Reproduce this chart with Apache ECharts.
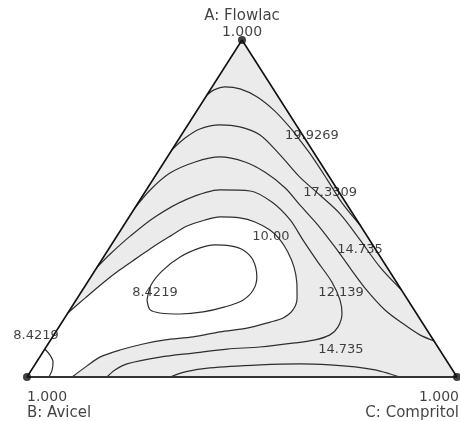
<!DOCTYPE html>
<html>
<head>
<meta charset="utf-8">
<script src="https://cdn.jsdelivr.net/npm/echarts@6/dist/echarts.min.js"></script>
<style>html,body{margin:0;padding:0;background:#fff;}</style>
</head>
<body>
<div id="ternary_chart" style="width:460px;height:421px;"></div>
<script>
// every point is [A: Flowlac, C: Compritol]; B: Avicel = 1 - A - C
var vertices = [[1, 0], [0, 0], [0, 1]];
var vertexNames = ['A: Flowlac', 'B: Avicel', 'C: Compritol'];
var vertexValues = ['1.000', '1.000', '1.000'];

var c19_9269 = [[0.837, 0.000], [0.852, 0.009], [0.861, 0.030], [0.855, 0.068], [0.831, 0.120], [0.789, 0.182],
    [0.739, 0.243], [0.703, 0.283], [0.653, 0.337], [0.585, 0.406], [0.516, 0.475], [0.451, 0.549]];
var c17_3309 = [[0.674, 0.000], [0.709, 0.013], [0.736, 0.034], [0.748, 0.075], [0.742, 0.124], [0.718, 0.183],
    [0.659, 0.259], [0.593, 0.338], [0.540, 0.411], [0.484, 0.486], [0.407, 0.571], [0.326, 0.658], [0.258, 0.742]];
var c14_735 = [[0.501, 0.000], [0.555, 0.009], [0.605, 0.030], [0.638, 0.072], [0.653, 0.122], [0.638, 0.188],
    [0.608, 0.249], [0.561, 0.320], [0.510, 0.380], [0.451, 0.451], [0.386, 0.523], [0.323, 0.590], [0.264, 0.654],
    [0.199, 0.733], [0.154, 0.802], [0.125, 0.851], [0.107, 0.893]];
var c12_139 = [[0.326, 0.000], [0.365, 0.011], [0.418, 0.031], [0.475, 0.060], [0.525, 0.105], [0.555, 0.171],
    [0.552, 0.243], [0.519, 0.310], [0.466, 0.379], [0.407, 0.438], [0.341, 0.506], [0.282, 0.568], [0.228, 0.614],
    [0.187, 0.639], [0.148, 0.649], [0.125, 0.642], [0.110, 0.615], [0.101, 0.573], [0.089, 0.497], [0.083, 0.424],
    [0.071, 0.351], [0.059, 0.280], [0.039, 0.213], [0.021, 0.194], [0.000, 0.186]];
var c10_00 = [[0.190, 0.000], [0.234, 0.018], [0.279, 0.037], [0.318, 0.057], [0.353, 0.079], [0.386, 0.100],
    [0.418, 0.124], [0.448, 0.148], [0.466, 0.181], [0.475, 0.211], [0.472, 0.259], [0.460, 0.300], [0.436, 0.347],
    [0.407, 0.385], [0.371, 0.421], [0.326, 0.458], [0.279, 0.488], [0.234, 0.511], [0.199, 0.519], [0.175, 0.508],
    [0.163, 0.484], [0.145, 0.439], [0.134, 0.382], [0.119, 0.327], [0.110, 0.266], [0.098, 0.221], [0.080, 0.176],
    [0.059, 0.140], [0.033, 0.123], [0.000, 0.105]];
var c8_4219_loop = [[0.228, 0.165], [0.199, 0.187], [0.190, 0.214], [0.187, 0.262], [0.193, 0.313], [0.208, 0.356],
    [0.228, 0.388], [0.258, 0.397], [0.297, 0.386], [0.347, 0.352], [0.377, 0.314], [0.389, 0.278], [0.392, 0.241],
    [0.383, 0.211], [0.356, 0.178], [0.315, 0.157], [0.273, 0.152], [0.228, 0.165]];
var c8_4219_corner = [[0.083, 0.000], [0.065, 0.021], [0.045, 0.038], [0.021, 0.048], [0.000, 0.051]];
var c14_735_base = [[0.000, 0.333], [0.015, 0.360], [0.027, 0.412], [0.036, 0.524], [0.039, 0.615], [0.036, 0.687],
    [0.030, 0.748], [0.021, 0.799], [0.009, 0.840], [0.000, 0.867]];

var labelTexts = ['19.9269', '17.3309', '14.735', '10.00', '12.139', '8.4219', '8.4219', '14.735'];
var labelPoints = [[0.715, 0.305], [0.546, 0.432], [0.377, 0.586], [0.418, 0.358], [0.249, 0.606], [0.249, 0.173],
    [0.122, -0.040], [0.080, 0.690]];

function tern(p) {
    return [p[1] + p[0] / 2, p[0]];
}

function polygonItem(points, color) {
    return function (params, api) {
        return {
            type: 'polygon',
            shape: {
                points: points.map(function (p) {
                    return api.coord(tern(p));
                })
            },
            style: {fill: color}
        };
    };
}

function contourSeries(points) {
    return {
        type: 'line',
        data: points.map(tern),
        smooth: 0.3,
        showSymbol: false,
        silent: true,
        z: 3,
        lineStyle: {color: '#2e2e2e', width: 1.2}
    };
}

var mycharts = echarts.init(document.getElementById('ternary_chart'));

var vertexLabels = [
    {position: [4, 4], align: 'center', verticalAlign: 'bottom', formatter: '{n|' + vertexNames[0] + '}\n{v|' + vertexValues[0] + '}'},
    {position: [4, 16], align: 'left', verticalAlign: 'top', formatter: '{v|' + vertexValues[1] + '}\n{n|' + vertexNames[1] + '}'},
    {position: [6, 16], align: 'right', verticalAlign: 'top', formatter: '{v|' + vertexValues[2] + '}\n{n|' + vertexNames[2] + '}'}
];

var option = {
    animation: false,
    textStyle: {fontFamily: 'DejaVu Sans'},
    grid: {left: 27, right: 3, top: 40, bottom: 44},
    xAxis: {type: 'value', min: 0, max: 1, show: false},
    yAxis: {type: 'value', min: 0, max: 1, show: false},
    series: [
        {
            type: 'custom',
            data: [[0, 0]],
            silent: true,
            z: 1,
            renderItem: polygonItem(vertices, '#ebebeb')
        },
        {
            type: 'custom',
            data: [[0, 0]],
            silent: true,
            z: 2,
            renderItem: polygonItem(c10_00.concat([vertices[1]]), '#ffffff')
        },
        contourSeries(c19_9269),
        contourSeries(c17_3309),
        contourSeries(c14_735),
        contourSeries(c12_139),
        contourSeries(c10_00),
        contourSeries(c8_4219_loop),
        contourSeries(c8_4219_corner),
        contourSeries(c14_735_base),
        {
            type: 'line',
            data: [vertices[1], vertices[0], vertices[2]].map(tern),
            showSymbol: false,
            silent: true,
            z: 4,
            lineStyle: {color: '#111', width: 1.6}
        },
        {
            type: 'line',
            data: [vertices[1], vertices[2]].map(tern),
            showSymbol: false,
            silent: true,
            z: 4,
            lineStyle: {color: '#333', width: 2}
        },
        {
            type: 'scatter',
            symbolSize: 8,
            silent: true,
            z: 5,
            itemStyle: {color: '#111'},
            data: vertices.map(function (v, i) {
                return {
                    value: tern(v),
                    label: Object.assign({
                        show: true,
                        color: '#111',
                        rich: {
                            n: {fontSize: 15, lineHeight: 16, fontFamily: 'DejaVu Sans', color: '#111'},
                            v: {fontSize: 14, lineHeight: 16, fontFamily: 'DejaVu Sans', color: '#111'}
                        }
                    }, vertexLabels[i])
                };
            })
        },
        {
            type: 'scatter',
            symbolSize: 0,
            silent: true,
            z: 6,
            label: {
                show: true,
                position: 'inside',
                fontSize: 13,
                color: '#111',
                formatter: function (params) {
                    return params.name;
                }
            },
            data: labelPoints.map(function (p, i) {
                return {name: labelTexts[i], value: tern(p)};
            })
        }
    ]
};

mycharts.setOption(option);
</script>
</body>
</html>
